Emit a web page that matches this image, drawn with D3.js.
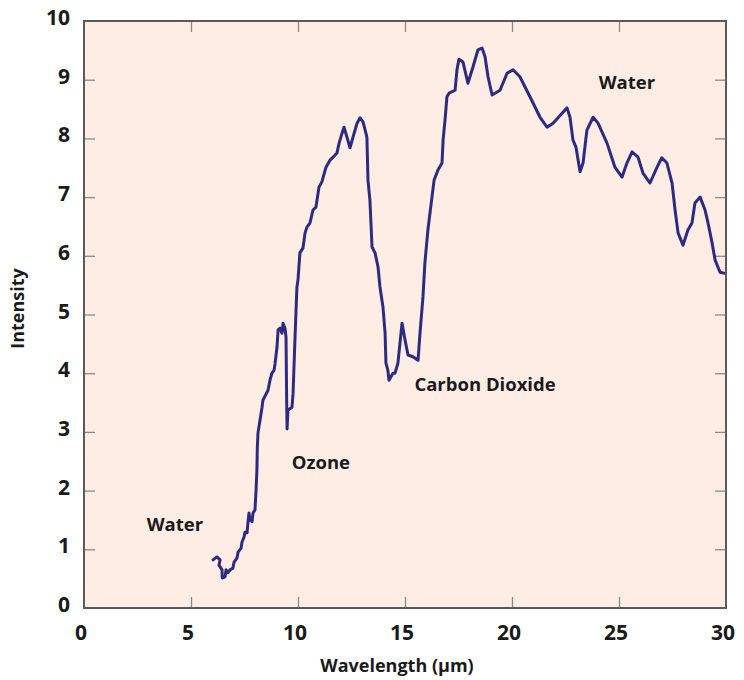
<!DOCTYPE html>
<html>
<head>
<meta charset="utf-8">
<script src="https://cdn.jsdelivr.net/npm/d3@7"></script>
<style>
  body { margin: 0; background: #fff; }
  text { font-family: "Open Sans", "Noto Sans", sans-serif; font-weight: 700; fill: #1a1a1a; }
</style>
</head>
<body>
<div id="chart"></div>
<script>
// spectrum
const wavelength = [6.03, 6.21, 6.36, 6.31, 6.45, 6.46, 6.59, 6.64, 6.73, 6.82, 6.96, 7.01, 7.15, 7.2, 7.34, 7.38, 7.48, 7.52, 7.62, 7.66, 7.71, 7.76, 7.85, 7.9, 7.99, 8.04, 8.08, 8.1, 8.13, 8.32, 8.36, 8.6, 8.69, 8.78, 8.88, 8.93, 9.02, 9.07, 9.16, 9.25, 9.3, 9.39, 9.44, 9.47, 9.49, 9.53, 9.72, 9.77, 9.86, 9.95, 10.0, 10.09, 10.23, 10.33, 10.42, 10.56, 10.7, 10.84, 10.89, 10.98, 11.12, 11.17, 11.31, 11.5, 11.64, 11.82, 11.92, 12.06, 12.15, 12.29, 12.43, 12.57, 12.76, 12.9, 13.04, 13.22, 13.27, 13.36, 13.46, 13.6, 13.74, 13.83, 13.97, 14.07, 14.11, 14.2, 14.25, 14.44, 14.53, 14.67, 14.86, 15.0, 15.14, 15.37, 15.61, 15.7, 15.84, 15.93, 16.07, 16.26, 16.36, 16.54, 16.73, 16.78, 16.87, 16.96, 17.06, 17.34, 17.43, 17.52, 17.71, 17.94, 18.18, 18.41, 18.6, 18.74, 18.88, 19.07, 19.44, 19.77, 20.05, 20.37, 20.84, 21.31, 21.64, 21.92, 22.34, 22.57, 22.71, 22.85, 22.99, 23.18, 23.32, 23.5, 23.79, 24.02, 24.44, 24.81, 25.14, 25.37, 25.61, 25.89, 26.12, 26.45, 26.78, 27.0, 27.24, 27.48, 27.62, 27.76, 27.99, 28.22, 28.41, 28.55, 28.79, 29.02, 29.16, 29.35, 29.49, 29.72, 29.95];
const intensity = [0.82, 0.87, 0.82, 0.73, 0.65, 0.51, 0.53, 0.65, 0.6, 0.65, 0.68, 0.78, 0.85, 0.95, 1.02, 1.12, 1.21, 1.29, 1.28, 1.45, 1.62, 1.5, 1.47, 1.62, 1.67, 2.01, 2.35, 2.74, 2.98, 3.42, 3.54, 3.71, 3.88, 4.0, 4.05, 4.17, 4.45, 4.74, 4.77, 4.68, 4.85, 4.77, 4.62, 3.54, 3.05, 3.37, 3.42, 3.66, 4.6, 5.47, 5.59, 6.05, 6.13, 6.39, 6.49, 6.56, 6.78, 6.83, 6.95, 7.17, 7.26, 7.33, 7.51, 7.63, 7.68, 7.75, 7.92, 8.09, 8.19, 8.02, 7.84, 8.02, 8.26, 8.35, 8.28, 8.02, 7.29, 6.95, 6.15, 6.05, 5.81, 5.47, 5.13, 4.68, 4.17, 4.05, 3.88, 4.0, 4.0, 4.17, 4.85, 4.57, 4.31, 4.28, 4.22, 4.68, 5.3, 5.88, 6.44, 7.0, 7.29, 7.46, 7.58, 7.97, 8.31, 8.71, 8.77, 8.82, 9.17, 9.35, 9.3, 8.94, 9.22, 9.51, 9.54, 9.39, 9.05, 8.74, 8.82, 9.11, 9.17, 9.05, 8.71, 8.36, 8.19, 8.26, 8.43, 8.52, 8.36, 7.97, 7.85, 7.43, 7.58, 8.14, 8.36, 8.26, 7.92, 7.51, 7.34, 7.58, 7.77, 7.68, 7.41, 7.24, 7.51, 7.67, 7.58, 7.24, 6.78, 6.39, 6.18, 6.44, 6.56, 6.9, 7.0, 6.78, 6.56, 6.22, 5.93, 5.72, 5.7];

const xTicks = [0, 5, 10, 15, 20, 25, 30];
const yTicks = [0, 1, 2, 3, 4, 5, 6, 7, 8, 9, 10];

const labelText = ["Water", "Ozone", "Carbon Dioxide", "Water"];
const labelX = [4.25, 11.07, 18.74, 25.37];
const labelY = [1.31, 2.37, 3.7, 8.84];

const data = wavelength.map((w, i) => ({ w: w, v: intensity[i] }));

const totalWidth = 744, totalHeight = 680;
const margin = { top: 21, right: 18, bottom: 72, left: 84 };
const width = totalWidth - margin.left - margin.right;
const height = totalHeight - margin.top - margin.bottom;

const svg = d3.select("#chart")
  .append("svg")
  .attr("width", totalWidth)
  .attr("height", totalHeight)
  .append("g")
  .attr("transform", `translate(${margin.left},${margin.top})`);

const x = d3.scaleLinear().domain([0, 30]).range([0, width]);
const y = d3.scaleLinear().domain([0, 10]).range([height, 0]);

// plot background
svg.append("rect")
  .attr("width", width)
  .attr("height", height)
  .attr("fill", "#fdede5");

// inward ticks on all four sides
const tickLen = 11;
const styleAxis = (g) => {
  g.select(".domain").remove();
  g.selectAll(".tick line").attr("stroke", "#8a8a8a").attr("stroke-width", 1.3);
};

svg.append("g")
  .attr("transform", `translate(0,${height})`)
  .call(d3.axisBottom(x).tickValues(xTicks.slice(1, -1)).tickSize(-tickLen).tickFormat(""))
  .call(styleAxis);
svg.append("g")
  .call(d3.axisTop(x).tickValues(xTicks.slice(1, -1)).tickSize(-tickLen).tickFormat(""))
  .call(styleAxis);
svg.append("g")
  .call(d3.axisLeft(y).tickValues(yTicks.slice(1, -1)).tickSize(-tickLen).tickFormat(""))
  .call(styleAxis);
svg.append("g")
  .attr("transform", `translate(${width},0)`)
  .call(d3.axisRight(y).tickValues(yTicks.slice(1, -1)).tickSize(-tickLen).tickFormat(""))
  .call(styleAxis);

// tick labels
svg.append("g")
  .selectAll("text")
  .data(xTicks)
  .enter()
  .append("text")
  .attr("x", (d) => x(d) - 3)
  .attr("y", height + 32)
  .attr("text-anchor", "middle")
  .attr("font-size", 21)
  .text((d) => d);

svg.append("g")
  .selectAll("text")
  .data(yTicks)
  .enter()
  .append("text")
  .attr("x", -14)
  .attr("y", (d) => y(d) + 4)
  .attr("text-anchor", "end")
  .attr("font-size", 21)
  .text((d) => d);

// the spectrum
const line = d3.line()
  .x((d) => x(d.w))
  .y((d) => y(d.v));

svg.append("path")
  .datum(data)
  .attr("fill", "none")
  .attr("stroke", "#2d2b80")
  .attr("stroke-width", 3)
  .attr("stroke-linejoin", "round")
  .attr("stroke-linecap", "round")
  .attr("d", line);

// frame
svg.append("rect")
  .attr("width", width)
  .attr("height", height)
  .attr("fill", "none")
  .attr("stroke", "#5a5a5a")
  .attr("stroke-width", 2);

// annotations
svg.append("g")
  .selectAll("text")
  .data(labelText)
  .enter()
  .append("text")
  .attr("x", (d, i) => x(labelX[i]))
  .attr("y", (d, i) => y(labelY[i]))
  .attr("text-anchor", "middle")
  .attr("font-size", 18.5)
  .text((d) => d);

// axis titles
svg.append("text")
  .attr("x", width / 2 - 8)
  .attr("y", height + 64)
  .attr("text-anchor", "middle")
  .attr("font-size", 18)
  .text("Wavelength (μm)");

svg.append("text")
  .attr("transform", "rotate(-90)")
  .attr("x", -(height / 2) + 6)
  .attr("y", -60)
  .attr("text-anchor", "middle")
  .attr("font-size", 18)
  .text("Intensity");
</script>
</body>
</html>
